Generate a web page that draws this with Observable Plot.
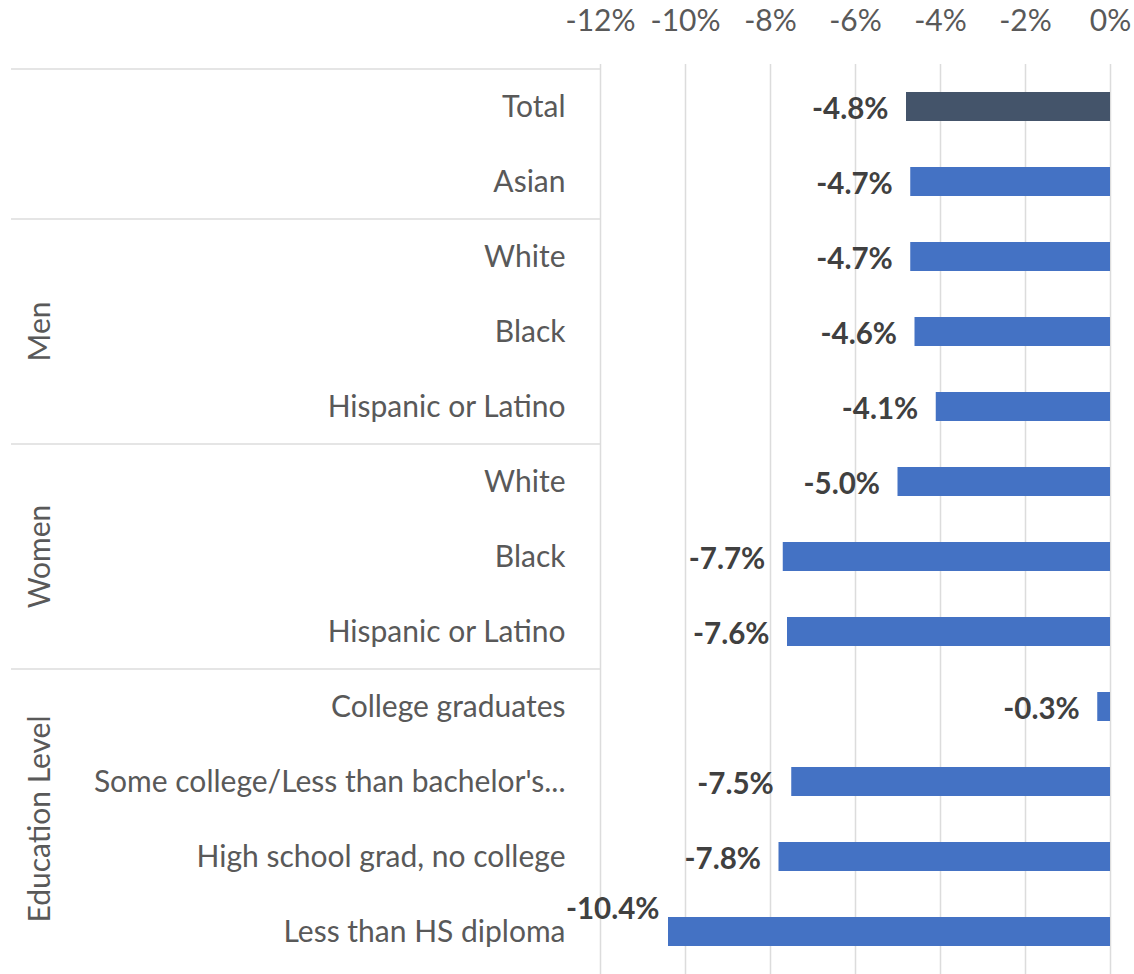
<!DOCTYPE html>
<html><head><meta charset="utf-8">
<script src="https://cdn.jsdelivr.net/npm/d3@7"></script>
<script src="https://cdn.jsdelivr.net/npm/@observablehq/plot@0.6"></script>
<style>body{margin:0;background:#fff} #chart{position:absolute;left:0;top:0}</style>
</head><body><div id="chart"></div>
<script>
const categories = ["Total","Asian","White","Black","Hispanic or Latino","White","Black","Hispanic or Latino","College graduates","Some college/Less than bachelor's...","High school grad, no college","Less than HS diploma"];
const values = [-4.8,-4.7,-4.7,-4.6,-4.1,-5.0,-7.7,-7.6,-0.3,-7.5,-7.8,-10.4];
const groupNames = ["", "Men", "Women", "Education Level"];
const groupOf = [0,0,1,1,1,2,2,2,3,3,3,3];
const xTicks = [-12,-10,-8,-6,-4,-2,0];
const tickLabels = ["-12%","-10%","-8%","-6%","-4%","-2%","0%"];

const data = categories.map((c,i)=>({id:i, label:c, value:values[i], group:groupOf[i]}));
const FONT = "Lato, 'Open Sans', sans-serif";
const labelText = d => d.value.toFixed(1) + "%";

const chart = Plot.plot({
  width:1134, height:974, marginTop:64, marginBottom:0, marginLeft:600, marginRight:24,
  style:{fontFamily:FONT, background:"#fff", overflow:"visible"},
  x:{domain:[-12,0], label:null},
  y:{domain:d3.range(categories.length), paddingInner:0.62, paddingOuter:0.31, label:null},
  marks:[
    Plot.gridX(xTicks, {stroke:"#dcdcdc", strokeOpacity:1, strokeWidth:1.5}),
    Plot.axisX(xTicks, {anchor:"top", tickSize:0, tickPadding:34, label:null, tickFormat:d=>tickLabels[xTicks.indexOf(d)], fontSize:30, fill:"#595959"}),
    Plot.axisY({tickSize:0, tickPadding:35, label:null, tickFormat:i=>categories[i], fontSize:30, fill:"#595959"}),
    Plot.barX(data.filter(d=>d.id===0), {x:"value", y:"id", fill:"#44546A"}),
    Plot.barX(data.filter(d=>d.id!==0), {x:"value", y:"id", fill:"#4472C4"}),
    Plot.text(data.filter(d=>d.value>-10), {x:"value", y:"id", text:labelText, textAnchor:"end", dx:-18, dy:3, fontWeight:"bold", fontSize:29.5, fill:"#404040"}),
    Plot.text(data.filter(d=>d.value<=-10), {x:"value", y:"id", text:labelText, textAnchor:"end", dx:-9, dy:-22, fontWeight:"bold", fontSize:29.5, fill:"#404040"})
  ]
});
document.getElementById("chart").appendChild(chart);

// category-axis frame, group separators and rotated group labels, placed via Plot's scales
const ys = chart.scale("y"), xs = chart.scale("x");
const svg = d3.select(chart);
const bw = ys.bandwidth, step = ys.step;
const xEdge = xs.apply(-12), xLeft = 11;
const g = svg.append("g").attr("font-family", FONT);
groupNames.forEach((name, gi) => {
  const rows = d3.range(categories.length).filter(i => groupOf[i] === gi);
  const c0 = ys.apply(rows[0]) + bw/2, c1 = ys.apply(rows[rows.length-1]) + bw/2;
  const top = c0 - step/2;
  g.append("line").attr("x1", xLeft).attr("x2", xEdge).attr("y1", top).attr("y2", top)
    .attr("stroke", "#dcdcdc").attr("stroke-width", 1.5);
  if (name) {
    const cy = (c0 + c1) / 2;
    g.append("text").attr("transform", `translate(38,${cy}) rotate(-90)`)
      .attr("text-anchor", "middle").attr("dominant-baseline", "central")
      .attr("font-size", 30).attr("fill", "#595959").text(name);
  }
});
</script></body></html>
